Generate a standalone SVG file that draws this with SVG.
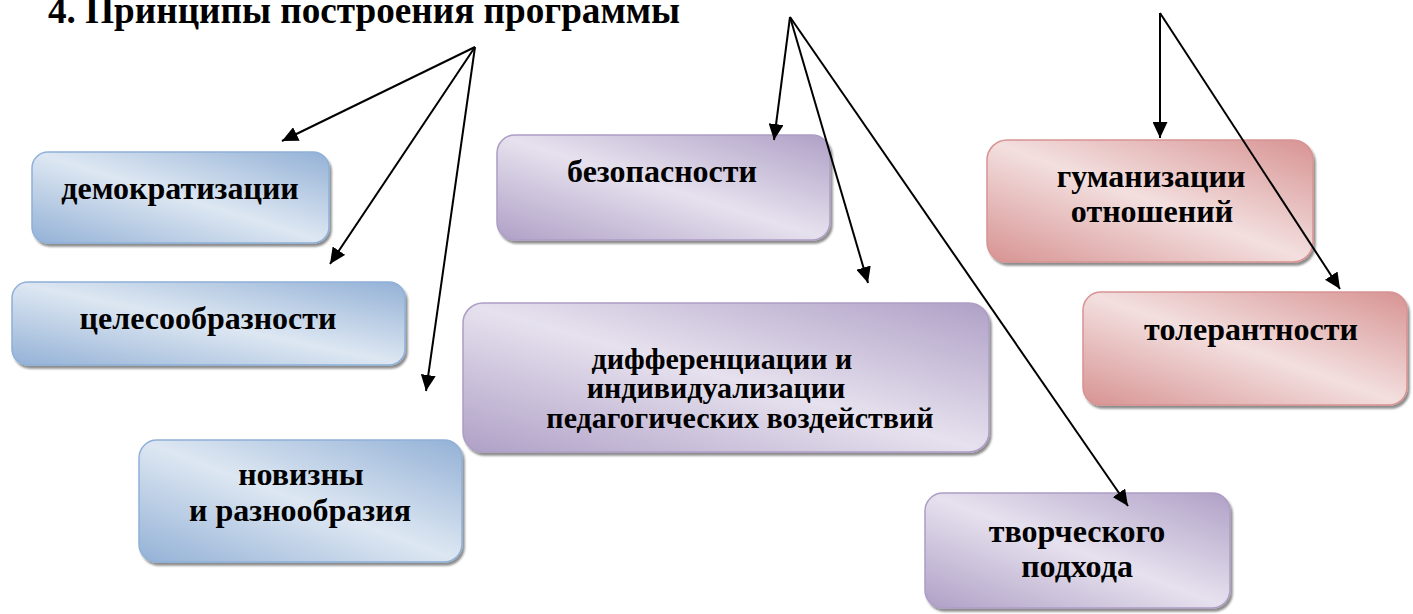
<svg xmlns="http://www.w3.org/2000/svg" width="1413" height="614" viewBox="0 0 1413 614">
<style>
text{font-weight:700;fill:#000;text-anchor:middle}
.t{font-size:32px}
.t5{font-size:30px}
.title{font-size:37.2px;text-anchor:start}
.box{stroke-width:1.5;filter:url(#sh)}
.blue{fill:url(#gb);stroke:#8fb0d8}
.purple{fill:url(#gp);stroke:#ad9dc5}
.red{fill:url(#gr);stroke:#d89392}
.c line{stroke:#000;stroke-width:2;marker-end:url(#ah)}
</style>
<defs>
<filter id="sh" x="-5%" y="-5%" width="115%" height="120%">
<feDropShadow dx="2" dy="3" stdDeviation="1.2" flood-color="#000" flood-opacity="0.45"/>
</filter>
<linearGradient id="gb" x1="1" y1="0" x2="0" y2="1">
<stop offset="0" stop-color="#93b1d6"/>
<stop offset="0.5" stop-color="#dde7f2"/>
<stop offset="1" stop-color="#93b1d6"/>
</linearGradient>
<linearGradient id="gp" x1="1" y1="0" x2="0" y2="1">
<stop offset="0" stop-color="#afa0c6"/>
<stop offset="0.5" stop-color="#e6e1ee"/>
<stop offset="1" stop-color="#afa0c6"/>
</linearGradient>
<linearGradient id="gr" x1="1" y1="0" x2="0" y2="1">
<stop offset="0" stop-color="#d79392"/>
<stop offset="0.5" stop-color="#f3dfdf"/>
<stop offset="1" stop-color="#d79392"/>
</linearGradient>
<marker id="ah" markerUnits="userSpaceOnUse" markerWidth="17" markerHeight="15" refX="16" refY="7.5" orient="auto">
<path d="M0,0 L16,7.5 L0,15 z" fill="#000"/>
</marker>
</defs>
<rect width="1413" height="614" fill="#fff"/>
<text class="title" x="48" y="23" style="font-family:'Liberation Serif',serif">4. Принципы построения программы</text>

<g id="n-demokratizatsii"><rect class="box blue" x="32" y="152" width="297" height="91" rx="16"/><text class="t" x="180" y="199" style="font-family:'Liberation Serif',serif">демократизации</text></g>
<g id="n-tselesoobraznosti"><rect class="box blue" x="12" y="282" width="393" height="83" rx="16"/><text class="t" x="208" y="329" style="font-family:'Liberation Serif',serif">целесообразности</text></g>
<g id="n-novizny"><rect class="box blue" x="139" y="440" width="323" height="122" rx="18"/><text class="t" x="301" y="485" style="font-family:'Liberation Serif',serif">новизны</text><text class="t" x="300" y="521" style="font-family:'Liberation Serif',serif">и разнообразия</text></g>
<g id="n-bezopasnosti"><rect class="box purple" x="497" y="135" width="333" height="105" rx="18"/><text class="t" x="662" y="182" style="font-family:'Liberation Serif',serif">безопасности</text></g>
<g id="n-differentsiatsii"><rect class="box purple" x="463" y="303" width="526" height="149" rx="20"/><text class="t5" x="722" y="369" style="font-family:'Liberation Serif',serif">дифференциации и</text><text class="t5" x="716" y="398" style="font-family:'Liberation Serif',serif">индивидуализации</text><text class="t5" x="740" y="428" style="font-family:'Liberation Serif',serif">педагогических воздействий</text></g>
<g id="n-tvorcheskogo"><rect class="box purple" x="925" y="493" width="305" height="115" rx="18"/><text class="t" x="1077" y="542" style="font-family:'Liberation Serif',serif">творческого</text><text class="t" x="1077" y="577" style="font-family:'Liberation Serif',serif">подхода</text></g>
<g id="n-gumanizatsii"><rect class="box red" x="987" y="140" width="326" height="122" rx="20"/><text class="t" x="1151" y="187" style="font-family:'Liberation Serif',serif">гуманизации</text><text class="t" x="1152" y="222" style="font-family:'Liberation Serif',serif">отношений</text></g>
<g id="n-tolerantnosti"><rect class="box red" x="1083" y="292" width="324" height="113" rx="18"/><text class="t" x="1251" y="340" style="font-family:'Liberation Serif',serif">толерантности</text></g>

<g id="connectors" class="c">
<line x1="475" y1="47" x2="282" y2="141"/>
<line x1="475" y1="47" x2="330" y2="264"/>
<line x1="475" y1="47" x2="426" y2="391"/>
<line x1="790" y1="17" x2="774" y2="140"/>
<line x1="790" y1="17" x2="868" y2="283"/>
<line x1="790" y1="17" x2="1128" y2="506"/>
<line x1="1160" y1="13" x2="1160" y2="138"/>
<line x1="1160" y1="13" x2="1340" y2="289"/>
</g>
</svg>
